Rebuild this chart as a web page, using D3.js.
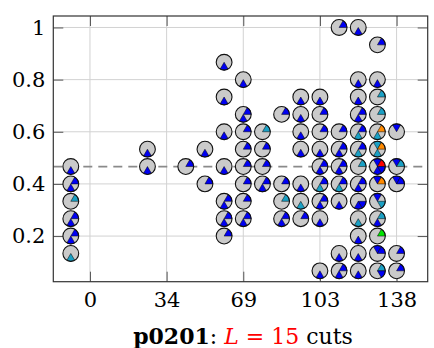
<!DOCTYPE html>
<html>
<head>
<meta charset="utf-8">
<script src="https://cdn.jsdelivr.net/npm/d3@7"></script>
<style>
  html, body { margin: 0; padding: 0; background: #fff; }
  svg { display: block; }
  text { font-family: "DejaVu Serif", "Liberation Serif", serif; }
</style>
</head>
<body>
<script>
// Axis ticks
const xTickValues = [0, 34.5, 69, 103.5, 138];
const xTickLabels = ["0", "34", "69", "103", "138"];
const yTickValues = [0.2, 0.4, 0.6, 0.8, 1];
const yTickLabels = ["0.2", "0.4", "0.6", "0.8", "1"];

// Mean level drawn as the dashed line
const referenceLevel = 0.4667;

// One glyph per point: position and the six cut sectors
// (sector order: top, upper right, lower right, bottom, lower left, upper left;
//  b = blue, t = teal, o = orange, r = red, g = green, - = empty)
const pointX = [
  -8.625, -8.625, -8.625, -8.625, -8.625, -8.625,
  25.875, 25.875,
  43.125,
  51.75, 51.75,
  60.375, 60.375, 60.375, 60.375, 60.375, 60.375, 60.375,
  69, 69, 69, 69, 69, 69, 69, 69,
  77.625, 77.625, 77.625, 77.625,
  86.25, 86.25, 86.25, 86.25,
  94.875, 94.875, 94.875, 94.875, 94.875, 94.875, 94.875,
  103.5, 103.5, 103.5, 103.5, 103.5, 103.5, 103.5, 103.5, 103.5,
  112.125, 112.125, 112.125, 112.125, 112.125, 112.125, 112.125, 112.125,
  120.75, 120.75, 120.75, 120.75, 120.75, 120.75, 120.75, 120.75, 120.75, 120.75, 120.75, 120.75, 120.75,
  129.375, 129.375, 129.375, 129.375, 129.375, 129.375, 129.375, 129.375, 129.375, 129.375, 129.375, 129.375, 129.375,
  138, 138, 138, 138, 138
];
const pointY = [
  0.4667, 0.4, 0.3333, 0.2667, 0.2, 0.1333,
  0.5333, 0.4667,
  0.4667,
  0.5333, 0.4,
  0.8667, 0.7333, 0.6, 0.4667, 0.3333, 0.2667, 0.2,
  0.8, 0.6667, 0.6, 0.5333, 0.4667, 0.4, 0.3333, 0.2667,
  0.6, 0.5333, 0.4667, 0.4,
  0.6667, 0.4, 0.3333, 0.2667,
  0.7333, 0.6667, 0.6, 0.5333, 0.4, 0.3333, 0.2667,
  0.7333, 0.6667, 0.6, 0.5333, 0.4667, 0.4, 0.3333, 0.2667, 0.0667,
  1, 0.6, 0.5333, 0.4667, 0.4, 0.3333, 0.1333, 0.0667,
  1, 0.8, 0.7333, 0.6667, 0.6, 0.5333, 0.4667, 0.4, 0.3333, 0.2667, 0.2, 0.1333, 0.0667,
  0.9333, 0.8, 0.7333, 0.6667, 0.6, 0.5333, 0.4667, 0.4, 0.3333, 0.2667, 0.2, 0.1333, 0.0667,
  0.6, 0.4667, 0.4, 0.1333, 0.0667
];
const pointCuts = [
  "---b--", "-b-b--", "-t----", "-b-b--", "-b-b--", "---t--",
  "---b--", "---b--",
  "-b----",
  "---b--", "-b----",
  "---b--", "---b--", "---b--", "---b--", "-b-b--", "-b-b--", "-b----",
  "---b--", "-b-b--", "-b----", "-b----", "-b----", "-b----", "-b----", "-b-b--",
  "-t----", "-b----", "-b----", "-b-b--",
  "-b----", "-b----", "-t----", "-b-b--",
  "---b--", "---b--", "---b--", "---b--", "---b--", "---t--", "-b----",
  "---b--", "-b----", "-b----", "---b--", "-b-b--", "-b-t--", "-b-b--", "---b--", "---b--",
  "-b----", "-b----", "-b-b--", "-b-b--", "-b-t--", "---b--", "---b--", "-b-b--",
  "---b--", "---b--", "---b--", "-b-b--", "-b-t--", "-b-t--", "-t----", "-b-b--", "--bb--", "---t--", "---b--", "---b--", "---b--",
  "-b----", "---b--", "-t----", "-t----", "-o-t--", "to-t--", "brbb--", "bo----", "b-t---", "-t-b--", "-g----", "bb----", "-tb---",
  "b-----", "bt----", "bb----", "-b----", "-b----"
];

const cutColors = { b: "#0000f2", t: "#1ba0c4", o: "#ff8a00", r: "#ff0000", g: "#00e400" };

const W = 434, H = 348;
const plot = { left: 53.3, right: 427.7, top: 16, bottom: 281.7 };
const fontStack = '"DejaVu Serif", "Liberation Serif", serif';

const svg = d3.select("body").append("svg").attr("width", W).attr("height", H);

const x = d3.scaleLinear().domain([-16.5, 152]).range([plot.left, plot.right]);
const y = d3.scaleLinear().domain([0.025, 1.044]).range([plot.bottom, plot.top]);

// Grid
const grid = svg.append("g").attr("stroke", "#d2d2d2").attr("stroke-width", 1);
grid.selectAll("line.vx").data(xTickValues).join("line")
  .attr("x1", d => x(d)).attr("x2", d => x(d))
  .attr("y1", plot.top).attr("y2", plot.bottom);
grid.selectAll("line.hy").data(yTickValues).join("line")
  .attr("x1", plot.left).attr("x2", plot.right)
  .attr("y1", d => y(d)).attr("y2", d => y(d));

// Axes with inward ticks on all four sides
const tickLen = 10;
const fontSize = 21;
const xAxis = d3.axisBottom(x).tickValues(xTickValues)
  .tickFormat((d, i) => xTickLabels[i]).tickSizeInner(-tickLen).tickSizeOuter(0).tickPadding(10);
const yAxis = d3.axisLeft(y).tickValues(yTickValues)
  .tickFormat((d, i) => yTickLabels[i]).tickSizeInner(-tickLen).tickSizeOuter(0).tickPadding(8);
const xTop = d3.axisTop(x).tickValues(xTickValues).tickFormat("").tickSizeInner(-tickLen).tickSizeOuter(0);
const yRight = d3.axisRight(y).tickValues(yTickValues).tickFormat("").tickSizeInner(-tickLen).tickSizeOuter(0);

function styleAxis(g) {
  g.select(".domain").remove();
  g.selectAll(".tick line").attr("stroke", "#555").attr("stroke-width", 1);
  g.selectAll(".tick text").attr("fill", "#000")
    .style("font-family", fontStack)
    .style("font-size", fontSize + "px");
}
svg.append("g").attr("transform", `translate(0,${plot.bottom})`).call(xAxis).call(styleAxis);
svg.append("g").attr("transform", `translate(${plot.left},0)`).call(yAxis).call(styleAxis);
svg.append("g").attr("transform", `translate(0,${plot.top})`).call(xTop).call(styleAxis);
svg.append("g").attr("transform", `translate(${plot.right},0)`).call(yRight).call(styleAxis);

// Dashed mean line
svg.append("line")
  .attr("x1", plot.left).attr("x2", plot.right)
  .attr("y1", y(referenceLevel)).attr("y2", y(referenceLevel))
  .attr("stroke", "#8a8a8a").attr("stroke-width", 1.7)
  .attr("stroke-dasharray", "9,6");

// Pie glyphs
const r = 7.9;
const sectorArc = d3.arc().innerRadius(0).outerRadius(r);
const points = pointX.map((px, i) => ({ x: px, y: pointY[i], cuts: pointCuts[i] }));

const glyphs = svg.append("g").selectAll("g").data(points).join("g")
  .attr("transform", d => `translate(${x(d.x)},${y(d.y)})`);
glyphs.append("circle").attr("r", r).attr("fill", "#cacaca");
glyphs.each(function(d) {
  const g = d3.select(this);
  d.cuts.split("").forEach((c, s) => {
    if (c === "-") return;
    const a0 = (s * 60 - 30) * Math.PI / 180;
    g.append("path")
      .attr("d", sectorArc({ startAngle: a0, endAngle: a0 + Math.PI / 3 }))
      .attr("fill", cutColors[c])
      .attr("stroke", "#000").attr("stroke-width", 0.5).attr("stroke-linejoin", "round");
  });
});
glyphs.append("circle").attr("r", r).attr("fill", "none")
  .attr("stroke", "#111").attr("stroke-width", 1.1);

// Frame
svg.append("rect")
  .attr("x", plot.left).attr("y", plot.top)
  .attr("width", plot.right - plot.left).attr("height", plot.bottom - plot.top)
  .attr("fill", "none").attr("stroke", "#333").attr("stroke-width", 1.2);

// Title
const title = svg.append("text")
  .attr("x", 243).attr("y", 344)
  .attr("text-anchor", "middle")
  .style("font-family", fontStack)
  .style("font-size", "22px");
title.append("tspan").attr("font-weight", "bold").text("p0201");
title.append("tspan").text(": ");
title.append("tspan").attr("fill", "#ff0000").attr("font-style", "italic").text("L");
title.append("tspan").attr("fill", "#ff0000").text(" = 15");
title.append("tspan").text(" cuts");
</script>
</body>
</html>
